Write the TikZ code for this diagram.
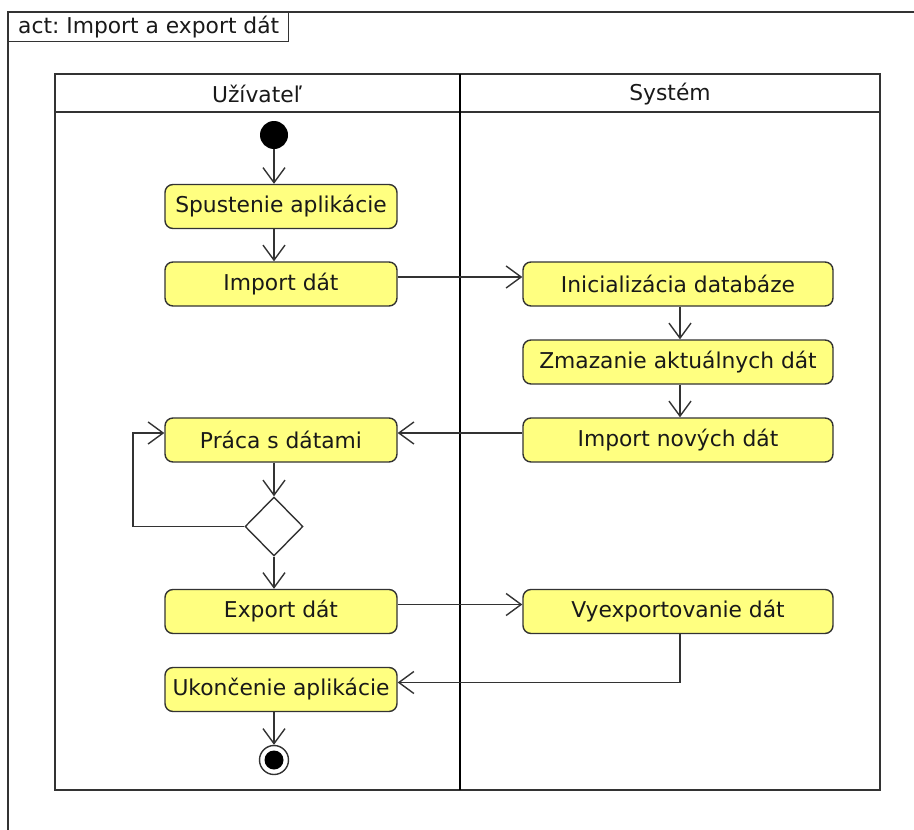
\documentclass[tikz,border=0pt]{standalone}
\usepackage{fontspec}
\setmainfont{DejaVu Sans}
\usetikzlibrary{arrows.meta,shapes.geometric,calc}
\definecolor{nodefill}{HTML}{FFFF80}
\definecolor{linec}{HTML}{333333}
\frenchspacing
\tikzset{
  lbl/.style={font=\fontsize{21.8}{25}\selectfont, text=black!90},
  act/.style={draw=linec, line width=1.4pt, fill=nodefill, rounded corners=8pt,
     minimum height=44pt, inner sep=0pt, lbl},
  actL/.style={act, minimum width=232pt},
  actR/.style={act, minimum width=310pt},
  flow/.style={draw=linec, line width=1.4pt, -{Straight Barb[length=15pt,width=22pt,line width=1.4pt]}},
  frame/.style={draw=linec, line width=1.4pt},
}
\begin{document}
\begin{tikzpicture}[x=1pt,y=-1pt]
\useasboundingbox (0,0) rectangle (914,830);
% outer frame
\draw[frame] (8,850) -- (8,12) -- (940,12);
\node[frame, draw, anchor=north west, minimum width=280pt, minimum height=29pt, inner sep=0pt, lbl] (title) at (8,12) {act: Import a export dát};
% swimlanes
\draw[frame] (55,74) rectangle (880,790);
\draw[frame] (55,112) -- (880,112);
\draw[draw=black, line width=2.6pt] (460,74) -- (460,790);
\node[lbl] (laneA) at (257,94) {Užívateľ};
\node[lbl] (laneB) at (670,94) {Systém};
% nodes
\node[circle, fill=black, minimum size=28pt, inner sep=0pt] (start) at (274,135) {};
\node[actL] (spust) at (281,206.5) {Spustenie aplikácie};
\node[actL] (imp) at (281,284) {Import dát};
\node[actL] (prac) at (281,440) {Práca s dátami};
\node[diamond, draw=linec, line width=1.4pt, fill=white, minimum width=58pt, minimum height=59pt, inner sep=0pt] (dec) at (274,526.5) {};
\node[actL] (exp) at (281,611.5) {Export dát};
\node[actL] (ukon) at (281,689.5) {Ukončenie aplikácie};
\node[circle, draw=linec, line width=1.4pt, fill=white, minimum size=29pt, inner sep=0pt] (end) at (274,760) {};
\node[circle, fill=black, minimum size=19pt, inner sep=0pt] (endin) at (274,760) {};
\node[actR] (ini) at (678,284) {Inicializácia databáze};
\node[actR] (zmaz) at (678,362) {Zmazanie aktuálnych dát};
\node[actR] (impn) at (678,440) {Import nových dát};
\node[actR] (vyex) at (678,611.5) {Vyexportovanie dát};
\coordinate (loopc) at (133,433);
% flows
\draw[flow] (start.south) -- (start |- spust.north);
\draw[flow] (start |- spust.south) -- (start |- imp.north);
\draw[flow] ([yshift=7pt]imp.east) -- ([yshift=7pt]ini.west);
\draw[flow] ([xshift=2pt]ini.south) -- ([xshift=2pt]zmaz.north);
\draw[flow] ([xshift=2pt]zmaz.south) -- ([xshift=2pt]impn.north);
\draw[flow] ([yshift=7pt]impn.west) -- ([yshift=7pt]prac.east);
\draw[flow] (start |- prac.south) -- (dec.north);
\draw[flow] (dec.west) -| (loopc) -- ([yshift=7pt]prac.west);
\draw[flow] (dec.south) -- (start |- exp.north);
\draw[flow] ([yshift=7pt]exp.east) -- ([yshift=7pt]vyex.west);
\draw[flow] ([xshift=2pt]vyex.south) |- ([yshift=7pt]ukon.east);
\draw[flow] (start |- ukon.south) -- (end.north);
\end{tikzpicture}
\end{document}
